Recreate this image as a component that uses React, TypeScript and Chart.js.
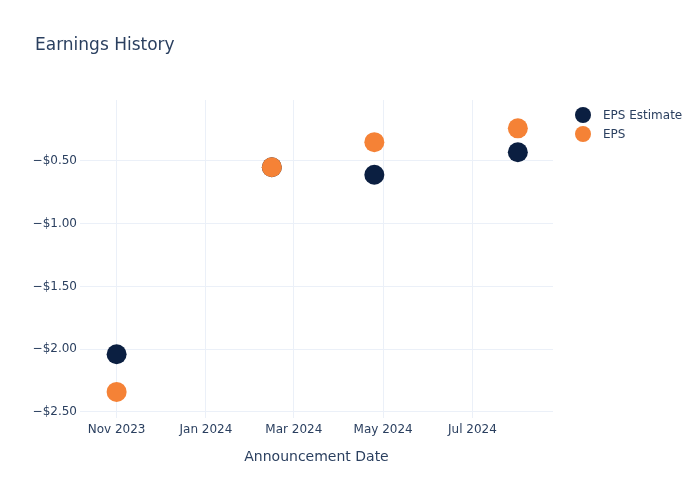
import React, { useEffect, useRef } from "react";
import { Chart, registerables } from "chart.js";

Chart.register(...registerables);

const announcementDates = ["2023-11-01", "2024-02-15", "2024-04-25", "2024-08-01"];
const epsEstimate = [-2.04, -0.55, -0.61, -0.43];
const epsActual = [-2.34, -0.55, -0.35, -0.24];
const xTickDates = ["2023-11-01", "2024-01-01", "2024-03-01", "2024-05-01", "2024-07-01"];
const xTickLabels = ["Nov 2023", "Jan 2024", "Mar 2024", "May 2024", "Jul 2024"];
const yTicks = [-0.5, -1.0, -1.5, -2.0, -2.5];
const xRange = ["2023-10-07", "2024-08-25"];
const yRange = [-2.548, -0.014];

const seriesNames = ["EPS Estimate", "EPS"];
const seriesColors = ["#0b1f41", "#f58236"];

const FONT = "'DejaVu Sans', sans-serif";
const TEXT = "#2a3f5f";
const GRID = "#ebf0f8";

const toDay = (s: string) => {
  const [y, m, d] = s.split("-").map(Number);
  return Date.UTC(y, m - 1, d) / 86400000;
};

const fmtMoney = (v: number) => (v < 0 ? "\u2212" : "") + "$" + Math.abs(v).toFixed(2);

const overlayPlugin = {
  id: "overlay",
  afterDraw(chart: any) {
    const ctx = chart.ctx;
    ctx.save();
    ctx.fillStyle = TEXT;
    ctx.textBaseline = "middle";
    ctx.textAlign = "left";
    ctx.font = `17px ${FONT}`;
    ctx.fillText("Earnings History", 35, 46);
    ctx.font = `12px ${FONT}`;
    seriesNames.forEach((name, i) => {
      const y = 115 + i * 19;
      ctx.beginPath();
      ctx.arc(583, y, 8, 0, Math.PI * 2);
      ctx.fillStyle = seriesColors[i];
      ctx.fill();
      ctx.fillStyle = TEXT;
      ctx.fillText(name, 603, y + 1);
    });
    ctx.restore();
  },
};

export default function App() {
  const ref = useRef<HTMLCanvasElement | null>(null);
  useEffect(() => {
    if (!ref.current) return;
    const xs = announcementDates.map(toDay);
    const chart = new Chart(ref.current, {
      type: "scatter",
      data: {
        datasets: [
          {
            label: seriesNames[0],
            data: xs.map((x, i) => ({ x, y: epsEstimate[i] })),
            backgroundColor: seriesColors[0],
            borderColor: seriesColors[0],
            pointRadius: 10,
            pointHoverRadius: 10,
            borderWidth: 0,
            order: 1,
          },
          {
            label: seriesNames[1],
            data: xs.map((x, i) => ({ x, y: epsActual[i] })),
            backgroundColor: seriesColors[1],
            borderColor: seriesColors[1],
            pointRadius: 10,
            pointHoverRadius: 10,
            borderWidth: 0,
            order: 0,
          },
        ],
      },
      options: {
        animation: false,
        responsive: false,
        layout: { padding: { top: 100, right: 147, left: 0, bottom: 0 } },
        plugins: { legend: { display: false }, title: { display: false }, tooltip: { enabled: false } },
        scales: {
          x: {
            type: "linear",
            min: toDay(xRange[0]),
            max: toDay(xRange[1]),
            border: { display: false },
            grid: { color: GRID, drawTicks: false, lineWidth: 1 },
            afterBuildTicks: (scale: any) => {
              scale.ticks = xTickDates.map((d) => ({ value: toDay(d) }));
            },
            afterFit: (scale: any) => {
              scale.height = 82;
            },
            ticks: {
              padding: 5,
              color: TEXT,
              font: { family: FONT, size: 12 },
              maxRotation: 0,
              autoSkip: false,
              callback: (v: any) => {
                const idx = xTickDates.map(toDay).indexOf(Number(v));
                return idx >= 0 ? xTickLabels[idx] : "";
              },
            },
            title: {
              display: true,
              text: "Announcement Date",
              color: TEXT,
              font: { family: FONT, size: 14 },
              padding: { top: 0, bottom: 34 },
            },
          },
          y: {
            type: "linear",
            min: yRange[0],
            max: yRange[1],
            border: { display: false },
            grid: { color: GRID, drawTicks: false, lineWidth: 1 },
            afterBuildTicks: (scale: any) => {
              scale.ticks = yTicks.map((v) => ({ value: v }));
            },
            afterFit: (scale: any) => {
              scale.width = 80;
            },
            ticks: {
              padding: 3,
              color: TEXT,
              font: { family: FONT, size: 12 },
              callback: (v: any) => fmtMoney(Number(v)),
            },
          },
        },
      },
      plugins: [overlayPlugin],
    });
    return () => chart.destroy();
  }, []);
  return (
    <div style={{ position: "fixed", left: 0, top: 0, width: 700, height: 500, background: "#fff" }}>
      <canvas ref={ref} width={700} height={500} style={{ width: 700, height: 500 }} />
    </div>
  );
}
